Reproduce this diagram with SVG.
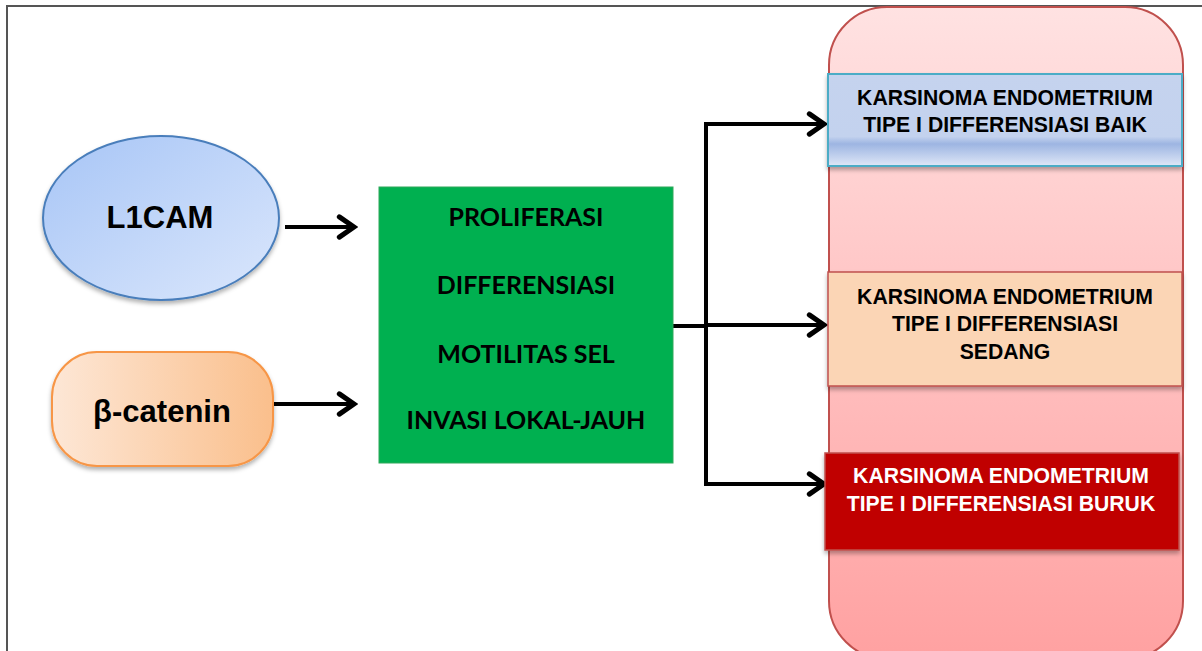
<svg xmlns="http://www.w3.org/2000/svg" width="1202" height="651" viewBox="0 0 1202 651">
<style>
.lbl{font-family:"Liberation Sans",Arial,sans-serif;font-weight:bold;text-anchor:middle;fill:#000}
.big{font-size:31px}
.sm{font-size:21.2px}
.cal{font-family:Lato,"Liberation Sans",sans-serif;font-weight:bold;font-size:25px;text-anchor:middle;fill:#000}
.con{fill:none;stroke:#000;stroke-width:4;stroke-linejoin:miter}
</style>
<defs>
<linearGradient id="gBlue" x1="0" y1="0" x2="1" y2="1">
<stop offset="0" stop-color="#a7c5f6"/><stop offset="1" stop-color="#dbe7fc"/>
</linearGradient>
<linearGradient id="gOrange" x1="0" y1="0" x2="1" y2="0">
<stop offset="0" stop-color="#fde7d6"/><stop offset="1" stop-color="#fabf8c"/>
</linearGradient>
<linearGradient id="gPink" x1="0" y1="0" x2="0" y2="1">
<stop offset="0" stop-color="#ffe2e2"/><stop offset="1" stop-color="#ffa1a1"/>
</linearGradient>
<linearGradient id="gBox1" x1="0" y1="0" x2="0" y2="1">
<stop offset="0" stop-color="#c5d3ee"/><stop offset="0.68" stop-color="#c3d2ee"/><stop offset="0.76" stop-color="#9db5e2"/><stop offset="1" stop-color="#dfe7f7"/>
</linearGradient>
<filter id="sh" x="-10%" y="-10%" width="120%" height="130%">
<feDropShadow dx="0" dy="3" stdDeviation="2" flood-color="#000" flood-opacity="0.3"/>
</filter>
<marker id="arr" viewBox="0 0 12 14" markerWidth="5.5" markerHeight="6.4" refX="10" refY="7" orient="auto" markerUnits="strokeWidth">
<path d="M2,1.5 L10,7 L2,12.5" fill="none" stroke="#000" stroke-width="2.8" stroke-linecap="round" stroke-linejoin="miter"/>
</marker>
</defs>
<rect width="1202" height="651" fill="#fff"/>
<path d="M7,660 V6 H1210" fill="none" stroke="#555" stroke-width="2"/>

<g id="panel">
<rect x="829" y="7" width="354" height="652" rx="58" ry="58" fill="url(#gPink)" stroke="#c0504d" stroke-width="2"/>
</g>

<g id="connectors">
<line class="con" x1="285" y1="227" x2="354" y2="227" marker-end="url(#arr)"/>
<line class="con" x1="273" y1="404" x2="354" y2="404" marker-end="url(#arr)"/>
<line class="con" x1="673" y1="326" x2="706" y2="326"/>
<path class="con" d="M706,124 V484 H824" marker-end="url(#arr)"/>
<line class="con" x1="704" y1="124" x2="824" y2="124" marker-end="url(#arr)"/>
<line class="con" x1="706" y1="325" x2="824" y2="325" marker-end="url(#arr)"/>
</g>

<g id="l1cam">
<ellipse cx="161" cy="218" rx="118" ry="82" fill="url(#gBlue)" stroke="#4a7ebb" stroke-width="2" filter="url(#sh)"/>
<text class="lbl big" x="160" y="228">L1CAM</text>
</g>

<g id="bcatenin">
<rect x="52" y="352" width="221" height="114" rx="45" ry="45" fill="url(#gOrange)" stroke="#f79646" stroke-width="2" filter="url(#sh)"/>
<text class="lbl big" x="162" y="422">β-catenin</text>
</g>

<g id="process">
<rect x="379" y="187" width="294" height="276" fill="#00b050" stroke="#2ea85a" stroke-width="1"/>
<text class="cal" x="526" y="226">PROLIFERASI</text>
<text class="cal" x="526" y="294">DIFFERENSIASI</text>
<text class="cal" x="526" y="363">MOTILITAS SEL</text>
<text class="cal" x="526" y="429">INVASI LOKAL-JAUH</text>
</g>

<g id="baik">
<rect x="828" y="74" width="354" height="92" fill="url(#gBox1)" stroke="#4bacc6" stroke-width="2" filter="url(#sh)"/>
<text class="lbl sm" x="1005" y="105">KARSINOMA ENDOMETRIUM</text>
<text class="lbl sm" x="1005" y="132">TIPE I DIFFERENSIASI BAIK</text>
</g>

<g id="sedang">
<rect x="828" y="272" width="354" height="114" fill="#fbd5b5" stroke="#c0504d" stroke-width="1.5" filter="url(#sh)"/>
<text class="lbl sm" x="1005" y="304">KARSINOMA ENDOMETRIUM</text>
<text class="lbl sm" x="1005" y="331">TIPE I DIFFERENSIASI</text>
<text class="lbl sm" x="1005" y="359">SEDANG</text>
</g>

<g id="buruk">
<rect x="825" y="453" width="354" height="97" fill="#c00000" stroke="#c0504d" stroke-width="1.5" filter="url(#sh)"/>
<text class="lbl sm" x="1001" y="483" style="fill:#fff">KARSINOMA ENDOMETRIUM</text>
<text class="lbl sm" x="1001" y="511" style="fill:#fff">TIPE I DIFFERENSIASI BURUK</text>
</g>
</svg>
